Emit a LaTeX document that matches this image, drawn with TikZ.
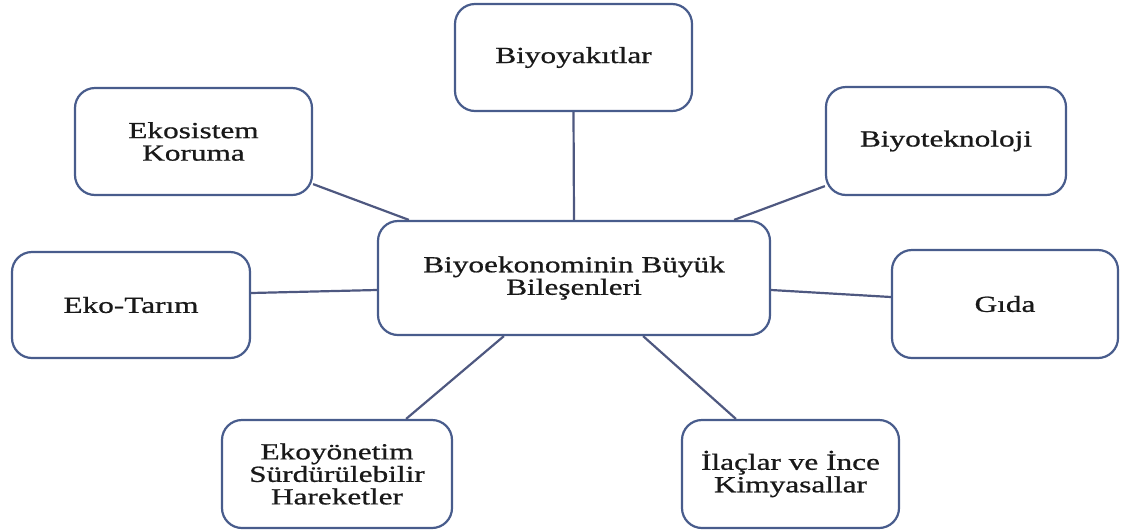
\documentclass[tikz,border=0pt]{standalone}
\usepackage{fontspec}
\setmainfont[FakeStretch=1.36,FakeBold=0.8]{Liberation Serif}
\usetikzlibrary{positioning}
\definecolor{boxline}{RGB}{72,92,140}
\definecolor{connline}{RGB}{78,88,128}
\definecolor{txt}{RGB}{25,25,25}
\tikzset{
  compbox/.style={draw=boxline, line width=2.2pt, rounded corners=20pt, fill=white,
    align=center, inner sep=0pt, text=txt,
    font=\fontsize{23}{22.5}\selectfont},
  conn/.style={draw=connline, line width=2.2pt}
}
\begin{document}
\begin{tikzpicture}[x=1pt,y=-1pt]
\useasboundingbox (0,0) rectangle (1121,531);
\node[compbox, minimum width=392pt, minimum height=114pt] (cen) at (574,278) {Biyoekonominin Büyük\\Bileşenleri};
\node[compbox, minimum width=237pt, minimum height=107pt] (bio) at (573.5,57.5) {Biyoyakıtlar};
\node[compbox, minimum width=237pt, minimum height=107pt] (eko) at (193.5,141.5) {Ekosistem\\Koruma};
\node[compbox, minimum width=240pt, minimum height=108pt] (tek) at (946,141) {Biyoteknoloji};
\node[compbox, minimum width=238pt, minimum height=106pt] (tar) at (131,305) {Eko-Tarım};
\node[compbox, minimum width=226pt, minimum height=108pt] (gida) at (1005,304) {Gıda};
\node[compbox, minimum width=230pt, minimum height=108pt] (ekoy) at (337,474) {Ekoyönetim\\Sürdürülebilir\\Hareketler};
\node[compbox, minimum width=217pt, minimum height=108pt] (ilac) at (790.5,474) {İlaçlar ve İnce\\Kimyasallar};
\draw[conn] (bio.south) -- (cen.north);
\draw[conn] ([yshift=12pt]eko.south east) -- ([xshift=32pt]cen.north west);
\draw[conn] ([xshift=-37pt]cen.north east) -- ([yshift=10pt]tek.south west);
\draw[conn] ([yshift=12pt]tar.east) -- ([yshift=-12pt]cen.west);
\draw[conn] ([yshift=-12pt]cen.east) -- ([yshift=7pt]gida.west);
\draw[conn] ([xshift=127pt]cen.south west) -- ([xshift=-47pt]ekoy.north east);
\draw[conn] ([xshift=-128pt]cen.south east) -- ([xshift=55pt]ilac.north west);
\end{tikzpicture}
\end{document}
